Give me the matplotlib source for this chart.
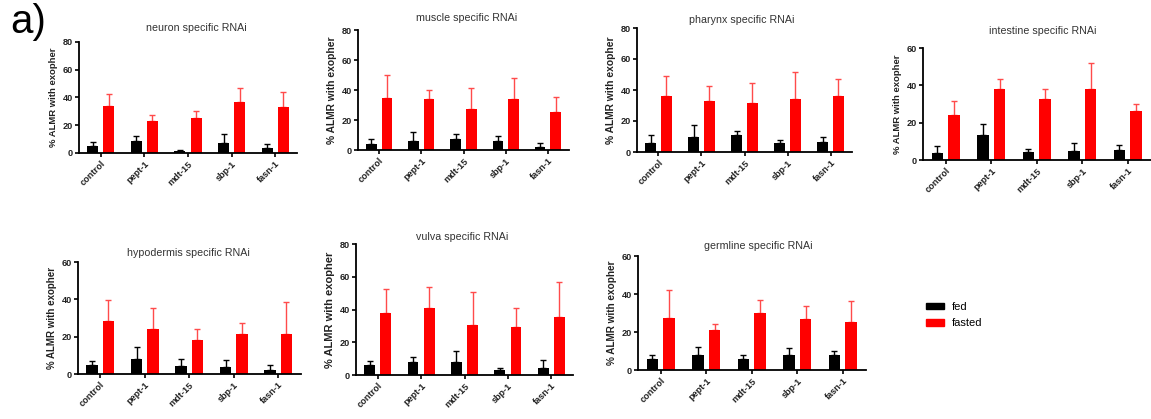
"""Exopher bar panels: fed vs fasted for tissue specific RNAi."""

import matplotlib

matplotlib.use("Agg")
import matplotlib.pyplot as plt
import numpy as np
from matplotlib.patches import Patch

plt.rcParams["font.family"] = ["Liberation Sans", "DejaVu Sans"]

categories = ["control", "pept-1", "mdt-15", "sbp-1", "fasn-1"]
titles = [
    "neuron specific RNAi", "muscle specific RNAi", "pharynx specific RNAi",
    "intestine specific RNAi", "hypodermis specific RNAi", "vulva specific RNAi",
    "germline specific RNAi",
]

neuron_fed = [4.8, 8.9, 1.2, 7.2, 3.4]
neuron_fed_sem = [3.1, 3.1, 1.2, 6.7, 2.8]
neuron_fasted = [33.6, 22.8, 25.5, 36.8, 33.4]
neuron_fasted_sem = [8.9, 4.8, 4.5, 10.1, 10.3]

muscle_fed = [3.8, 5.8, 7.6, 5.8, 1.8]
muscle_fed_sem = [3.3, 6.0, 3.3, 3.3, 3.1]
muscle_fasted = [34.4, 34.0, 27.6, 34.0, 25.1]
muscle_fasted_sem = [15.4, 6.0, 13.5, 14.2, 10.0]

pharynx_fed = [6.0, 9.9, 10.8, 6.0, 6.5]
pharynx_fed_sem = [5.2, 7.3, 3.0, 2.0, 3.4]
pharynx_fasted = [36.2, 32.8, 31.5, 34.0, 36.2]
pharynx_fasted_sem = [12.9, 9.9, 13.3, 17.9, 11.2]

intestine_fed = [3.9, 13.2, 4.4, 5.0, 5.3]
intestine_fed_sem = [3.8, 6.2, 1.5, 4.3, 2.9]
intestine_fasted = [24.2, 38.1, 32.6, 37.9, 26.0]
intestine_fasted_sem = [7.5, 5.1, 5.7, 14.2, 3.9]

hypodermis_fed = [4.8, 8.0, 4.5, 3.9, 2.3]
hypodermis_fed_sem = [2.2, 6.6, 3.7, 3.8, 2.5]
hypodermis_fasted = [28.4, 24.3, 18.0, 21.4, 21.4]
hypodermis_fasted_sem = [11.1, 11.1, 5.9, 5.7, 17.2]

vulva_fed = [5.9, 7.9, 7.9, 3.0, 4.1]
vulva_fed_sem = [2.8, 3.1, 6.7, 1.3, 5.2]
vulva_fasted = [37.8, 40.8, 30.5, 29.6, 35.7]
vulva_fasted_sem = [14.8, 12.8, 20.3, 11.4, 21.3]

germline_fed = [5.8, 7.9, 5.8, 7.9, 7.9]
germline_fed_sem = [2.1, 4.0, 2.1, 3.6, 2.0]
germline_fasted = [27.6, 21.1, 29.8, 27.0, 25.1]
germline_fasted_sem = [14.3, 3.2, 7.0, 6.5, 11.2]

y_max = [80, 80, 80, 60, 60, 80, 60]

W, H = 1151, 419

# pixel layout: (left, category spacing, top, bottom, title x, title y, ylabel size)
layout = [
    (79, 43.6, 42, 153, 196, 28, 6.8),
    (358, 42.2, 30, 150, 467, 18, 7.4),
    (637, 43.0, 28, 152, 742, 20, 7.4),
    (923, 45.5, 48, 160, 1043, 31, 6.8),
    (78, 44.5, 262, 374, 188, 253, 7.0),
    (356, 43.4, 244, 375, 462, 237, 8.0),
    (638, 45.5, 256, 370, 758, 246, 7.2),
]

RED = "#ff0000"
RED_ERR = "#ff4b4b"


def add_panel(fig, box, title, fed, fed_sem, fasted, fasted_sem, ymax):
    left, step, top, bottom, tx, ty, ylsize = box
    ax = fig.add_axes([left / W, 1 - bottom / H, 5 * step / W, (bottom - top) / H])
    x = np.arange(len(categories))
    w = 0.25
    off = 0.185
    ax.bar(x - off, fed, width=w, color="black", zorder=2)
    ax.bar(x + off, fasted, width=w, color=RED, zorder=2)
    ax.errorbar(x - off, fed, yerr=[np.zeros(len(fed)), fed_sem], fmt="none",
                ecolor="black", elinewidth=1.0, capsize=2.2, capthick=1.0, zorder=1)
    ax.errorbar(x + off, fasted, yerr=[np.zeros(len(fasted)), fasted_sem], fmt="none",
                ecolor=RED_ERR, elinewidth=1.0, capsize=2.2, capthick=1.0, zorder=1)
    ax.set_xlim(-0.5, 4.5)
    ax.set_ylim(0, ymax)
    ax.set_yticks(np.arange(0, ymax + 1, 20))
    ax.set_xticks(x)
    ax.set_xticklabels(categories, rotation=45, ha="right", rotation_mode="anchor",
                       fontsize=6.6, fontweight="bold", color="#222222")
    for lab in ax.get_yticklabels():
        lab.set_fontsize(6.6)
        lab.set_fontweight("bold")
        lab.set_color("#222222")
    ax.spines["top"].set_visible(False)
    ax.spines["right"].set_visible(False)
    ax.spines["left"].set_linewidth(1.3)
    ax.spines["bottom"].set_linewidth(1.3)
    ax.tick_params(axis="both", length=3, width=1.2, pad=1.5)
    ax.set_ylabel("% ALMR with exopher", fontsize=ylsize, fontweight="bold",
                  labelpad=3, color="#222222")
    fig.text(tx / W, 1 - ty / H, title, fontsize=7.7, color="#333333",
             ha="center", va="center")
    return ax


fig = plt.figure(figsize=(W / 100, H / 100), dpi=100)

panels = [
    (neuron_fed, neuron_fed_sem, neuron_fasted, neuron_fasted_sem),
    (muscle_fed, muscle_fed_sem, muscle_fasted, muscle_fasted_sem),
    (pharynx_fed, pharynx_fed_sem, pharynx_fasted, pharynx_fasted_sem),
    (intestine_fed, intestine_fed_sem, intestine_fasted, intestine_fasted_sem),
    (hypodermis_fed, hypodermis_fed_sem, hypodermis_fasted, hypodermis_fasted_sem),
    (vulva_fed, vulva_fed_sem, vulva_fasted, vulva_fasted_sem),
    (germline_fed, germline_fed_sem, germline_fasted, germline_fasted_sem),
]

for box, title, data, ymax in zip(layout, titles, panels, y_max):
    add_panel(fig, box, title, *data, ymax)

fig.text(10 / W, 1 - 22 / H, "a)", fontsize=29, ha="left", va="center")

handles = [Patch(color="black", label="fed"), Patch(color=RED, label="fasted")]
fig.legend(handles=handles, loc="upper left", bbox_to_anchor=(916 / W, 1 - 292 / H),
           frameon=False, fontsize=8, handlelength=1.6, handleheight=0.55,
           handletextpad=0.7, labelspacing=0.55)

fig.savefig("out.png", dpi=100)
plt.close(fig)
